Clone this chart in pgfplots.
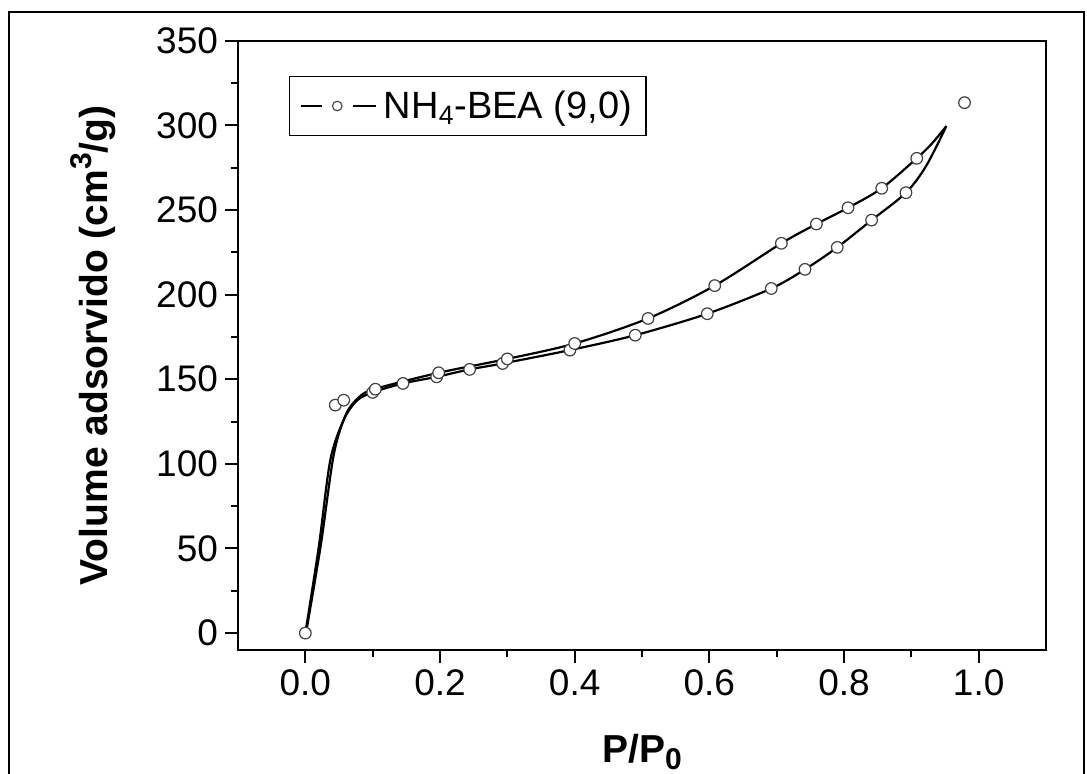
\documentclass[border=0pt]{standalone}
\usepackage{fontspec}
\setmainfont{Liberation Sans}
\usepackage{pgfplots}
\pgfplotsset{compat=1.18}

% adsorption (lower) and desorption (upper) branches
\newcommand{\adsbranch}{(0,0) (0.02,51) (0.037,102) (0.057,126) (0.077,137.5)
  (0.1,142.2) (0.145,147.5) (0.195,151.4) (0.244,155.8) (0.293,159.3)
  (0.393,167.2) (0.49,176) (0.597,188.7) (0.692,203.6) (0.742,214.9)
  (0.790,227.9) (0.841,244) (0.892,260.2) (0.922,276) (0.952,299.5)}
\newcommand{\desbranch}{(0.952,299.5) (0.93,289) (0.908,280.5) (0.856,262.8)
  (0.806,251.3) (0.759,241.7) (0.707,230.3) (0.608,205.3) (0.509,185.9)
  (0.40,171.1) (0.30,162) (0.198,153.8) (0.104,144.3) (0.08,139.5)
  (0.06,129) (0.042,105) (0.023,52) (0.001,0)}

\begin{document}
\begin{tikzpicture}
\path[use as bounding box] (-119pt,-61.5pt) rectangle (424.5pt,325pt);
\draw[line width=1pt] (-114.5pt,-63pt) -- (-114.5pt,319pt) -- (423pt,319pt) -- (423pt,-63pt);
\begin{axis}[
  scale only axis, width=404pt, height=304.65pt,
  xmin=-0.1, xmax=1.1, ymin=-10, ymax=350,
  xtick={0,0.2,...,1.0}, ytick={0,50,...,350},
  minor x tick num=1, minor y tick num=1,
  xtick pos=bottom, ytick pos=left,
  tick align=outside,
  major tick length=6.5pt, minor tick length=3.5pt,
  axis line style={line width=1pt}, every tick/.style={line width=1pt, black},
  /pgf/number format/assume math mode=true,
  xticklabel style={/pgf/number format/fixed, /pgf/number format/fixed zerofill,
                    /pgf/number format/precision=1},
  tick label style={font=\fontsize{18.5}{20}\selectfont},
  xlabel={\bfseries P/P\raisebox{-0.35ex}{\fontsize{15}{15}\selectfont 0}},
  ylabel={\bfseries Volume adsorvido (cm\raisebox{0.75ex}{\fontsize{15}{15}\selectfont 3}/g)},
  label style={font=\fontsize{19.5}{22}\selectfont},
  xlabel style={at={(axis description cs:0.5,-0.1675)}, anchor=center},
  ylabel style={at={(axis description cs:-0.1795,0.5)}, anchor=center},
  legend style={at={(0.0631,0.942)}, anchor=north west, draw=black,
                line width=0.7pt, font=\fontsize{19}{22}\selectfont,
                inner xsep=5pt, inner ysep=5pt, row sep=0pt},
  legend image code/.code={%
    \draw[#1, mark=none, line width=1.1pt] (0pt,0pt) -- (10.5pt,0pt);
    \draw[#1, mark=none, line width=1.1pt] (26pt,0pt) -- (37.5pt,0pt);
    \draw[#1] plot coordinates {(18.25pt,0pt)};
    \path (39pt,0pt);},
  clip=false
]
\addplot[black, line width=1.1pt, smooth, forget plot] coordinates {\adsbranch};
\addplot[black, line width=1.1pt, smooth, forget plot] coordinates {\desbranch};
\addplot[only marks, mark=*, mark size=2.9pt,
         mark options={draw=black!75, fill=white, line width=0.6pt}, forget plot]
coordinates {
(0,0) (0.0445,134.7) (0.057,137.6) (0.100,142.2) (0.104,144.1) (0.145,147.5)
(0.195,151.4) (0.198,153.8) (0.244,155.8) (0.293,159.3) (0.300,162.0)
(0.393,167.2) (0.400,171.1) (0.490,176.0) (0.509,185.9) (0.597,188.7)
(0.608,205.3) (0.692,203.6) (0.707,230.3) (0.742,214.9) (0.759,241.7)
(0.790,227.9) (0.806,251.3) (0.841,244.0) (0.856,262.8) (0.892,260.2)
(0.908,280.5) (0.979,313.4)};
\addlegendimage{black, line width=1.1pt, mark=*, mark size=2.4pt,
  mark options={draw=black!70, fill=white, line width=0.6pt}}
\addlegendentry{NH\textsubscript{4}-BEA (9,0)}
\end{axis}
\end{tikzpicture}
\end{document}
